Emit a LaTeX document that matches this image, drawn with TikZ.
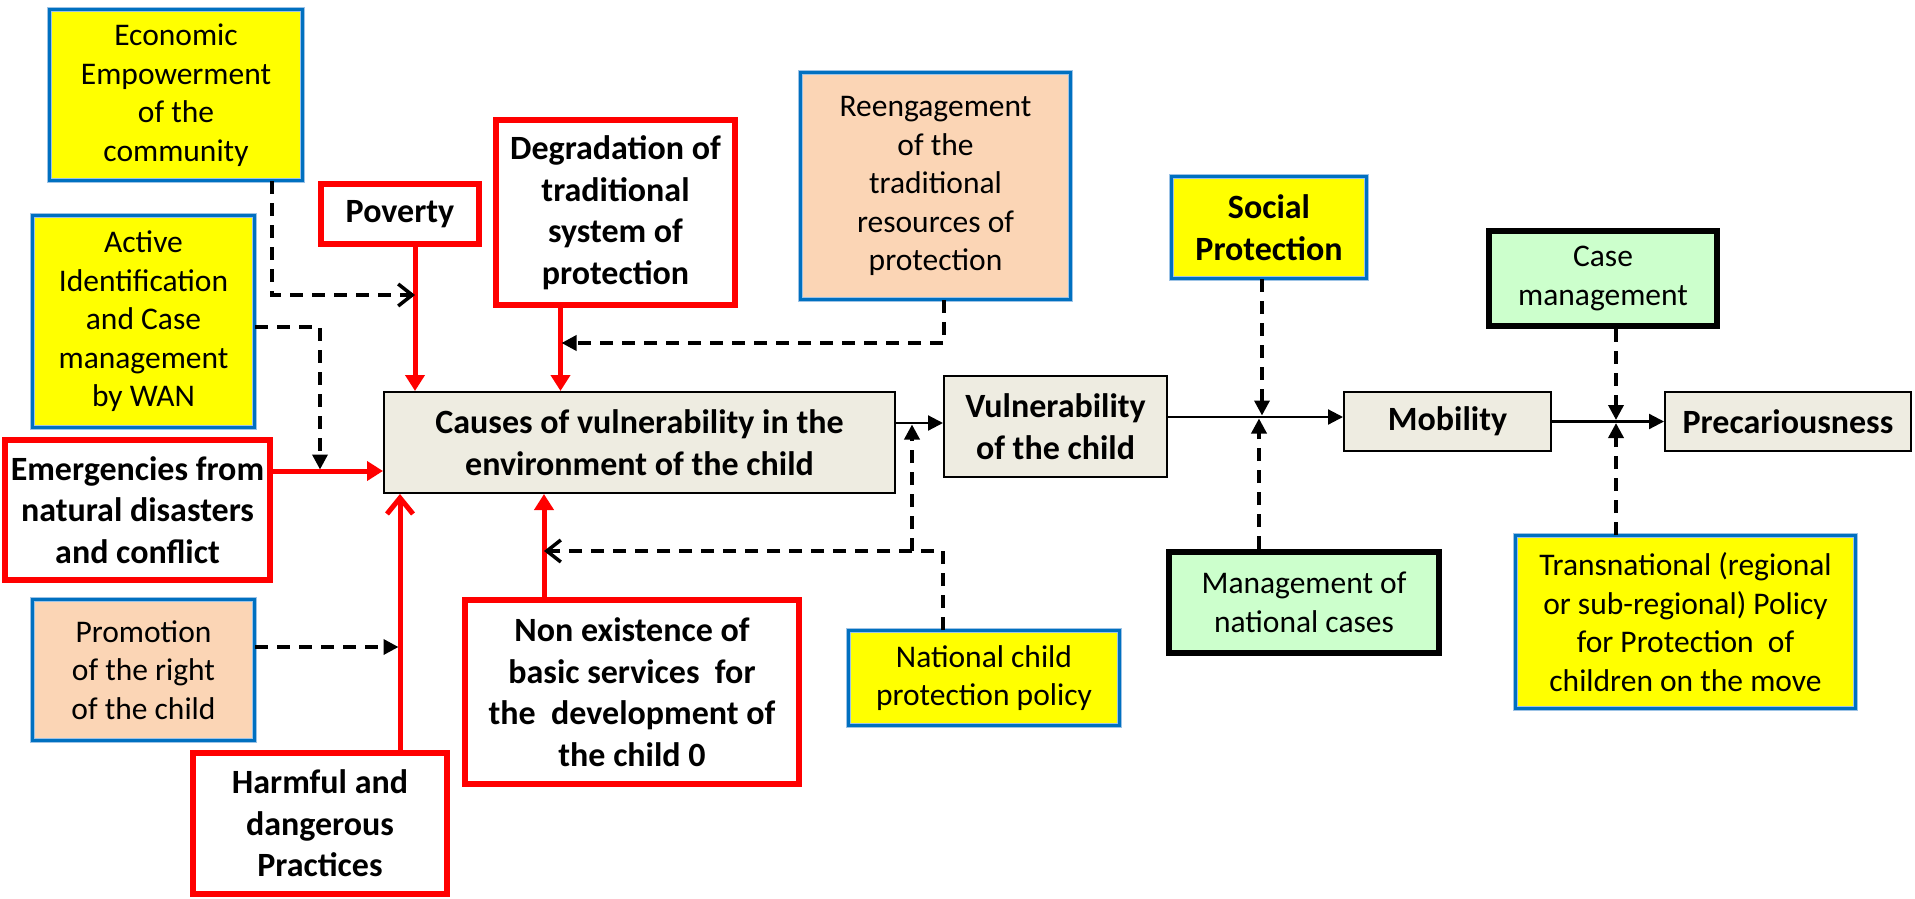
\documentclass[tikz,border=0pt]{standalone}
\usepackage{fontspec}
\setmainfont{Carlito}
\usetikzlibrary{arrows.meta}

\definecolor{boxyellow}{HTML}{FFFF00}
\definecolor{boxpeach}{HTML}{FBD5B5}
\definecolor{boxgreen}{HTML}{CCFFCC}
\definecolor{boxtan}{HTML}{EEECE1}
\definecolor{bluedark}{HTML}{0070C0}
\definecolor{bluelight}{HTML}{9DC3E6}

\newcommand{\regfont}{\fontsize{31.5}{38.5}\selectfont}
\newcommand{\boldfont}{\fontsize{34}{41.5}\selectfont\bfseries}

\tikzset{
    base/.style={rectangle, align=center, inner sep=0pt, font=\regfont},
    bluebox/.style={base, draw=bluelight, double=bluedark, double distance=3pt, line width=1pt},
    yellowbox/.style={bluebox, fill=boxyellow},
    peachbox/.style={bluebox, fill=boxpeach},
    redbox/.style={base, draw=red, line width=5.5pt, fill=white, font=\boldfont},
    greenbox/.style={base, draw=black, line width=6pt, fill=boxgreen},
    tanbox/.style={base, draw=black, line width=2pt, fill=boxtan, font=\boldfont},
    redarr/.style={draw=red, line width=5pt, -{Triangle[length=16pt,width=19pt]}},
    redopen/.style={draw=red, line width=5pt, -{Straight Barb[length=16pt,width=26pt]}},
    dashline/.style={line width=3.5pt, dash pattern=on 13pt off 9pt},
    dashtip/.style={dashline, -{Triangle[length=15pt,width=15pt]}, shorten >=1.5pt},
    dashopen/.style={dashline, -{Straight Barb[length=14pt,width=22pt]}},
    flow/.style={line width=2.2pt, -{Triangle[length=15pt,width=15pt]}},
}

\begin{document}
\begin{tikzpicture}[x=1pt,y=-1pt]
    \useasboundingbox (0,0) rectangle (1915,899);
    %main chain
    \node[tanbox, minimum width=511pt, minimum height=101pt] (causes) at (639.5,442.5) {Causes of vulnerability in the\\environment of the child};
    \node[tanbox, minimum width=223pt, minimum height=101pt] (vuln) at (1055.5,426.5) {Vulnerability\\of the child};
    \node[tanbox, minimum width=207pt, minimum height=59pt] (mobility) at (1447.5,421.5) {Mobility};
    \node[tanbox, minimum width=246pt, minimum height=59pt] (precar) at (1788,421.5) {Precariousness};
    %causes
    \node[redbox, minimum width=158pt, minimum height=60pt] (poverty) at (400,214) {Poverty};
    \node[redbox, minimum width=239pt, minimum height=185pt] (degrad) at (615.5,212.5) {Degradation of\\traditional\\system of\\protection};
    \node[redbox, minimum width=265pt, minimum height=140pt] (emerg) at (137.5,510) {Emergencies from\\natural disasters\\and conflict};
    \node[redbox, minimum width=254pt, minimum height=141pt] (harmful) at (320,823.5) {Harmful and\\dangerous\\Practices};
    \node[redbox, minimum width=334pt, minimum height=184pt] (nonex) at (632,692) {Non existence of\\basic services\ \ for\\the\ \ development of\\the child 0};
    %responses
    \node[yellowbox, minimum width=253pt, minimum height=171pt] (econ) at (176,95) {Economic\\Empowerment\\of the\\community};
    \node[yellowbox, minimum width=222pt, minimum height=212pt] (active) at (143.5,321.5) {Active\\Identification\\and Case\\management\\by WAN};
    \node[peachbox, minimum width=222pt, minimum height=141pt] (promo) at (143.5,670) {Promotion\\of the right\\of the child};
    \node[peachbox, minimum width=270pt, minimum height=227pt] (reeng) at (935.5,186) {Reengagement\\of the\\traditional\\resources of\\protection};
    \node[yellowbox, minimum width=271pt, minimum height=95pt] (natpol) at (984,678) {National child\\protection policy};
    \node[yellowbox, minimum width=195pt, minimum height=102pt, font=\boldfont] (social) at (1269,227.5) {Social\\Protection};
    \node[greenbox, minimum width=270pt, minimum height=101pt] (mgmt) at (1304,602.5) {Management of\\national cases};
    \node[greenbox, minimum width=228pt, minimum height=95pt] (casem) at (1603,278.5) {Case\\management};
    \node[yellowbox, minimum width=340pt, minimum height=173pt] (transn) at (1685.5,622) {Transnational (regional\\or sub-regional) Policy\\for Protection\ \ of\\children on the move};
    %red arrows into causes
    \coordinate (pv) at ([xshift=15pt]poverty.south);
    \coordinate (dg) at ([xshift=-55pt]degrad.south);
    \coordinate (em) at ([yshift=39pt]emerg.east);
    \coordinate (hm) at ([xshift=80pt]harmful.north);
    \coordinate (ne) at ([xshift=-88pt]nonex.north);
    \draw[redarr] (pv) -- (pv |- causes.north);
    \draw[redarr] (dg) -- (dg |- causes.north);
    \draw[redarr] (em) -- (em -| causes.west);
    \draw[redopen] (hm) -- (hm |- causes.south);
    \draw[redarr] (ne) -- (ne |- causes.south);
    %chain arrows
    \coordinate (cv) at ([yshift=19.5pt]causes.east);
    \coordinate (vm) at ([yshift=9.5pt]vuln.east);
    \draw[flow] (cv) -- (cv -| vuln.west);
    \draw[flow] (vm) -- (vm -| mobility.west);
    \draw[flow] (mobility) -- (precar);
    %dashed responses
    \coordinate (ec) at ([xshift=96pt]econ.south);
    \coordinate (ej) at (415,295);
    \draw[dashopen] (ec) |- (ej);
    \coordinate (ac) at ([yshift=-5.5pt]active.east);
    \coordinate (aj) at (320,471);
    \draw[dashtip] (ac) -| (aj);
    \coordinate (pr) at ([yshift=23pt]promo.east);
    \draw[dashtip] (pr) -- (pr -| hm);
    \coordinate (rg) at ([xshift=8.5pt]reeng.south);
    \coordinate (rj) at (560,343);
    \draw[dashtip] (rg) |- (rj);
    \coordinate (np) at ([xshift=-41pt]natpol.north);
    \coordinate (nj) at (943,551);
    \coordinate (nk) at (912,551);
    \draw[dashopen] (np) |- (ne |- nj);
    \draw[dashtip] (nk) -- (nk |- cv);
    \coordinate (sp) at ([xshift=-7pt]social.south);
    \coordinate (mg) at ([xshift=-45pt]mgmt.north);
    \draw[dashtip] (sp) -- (sp |- vm);
    \draw[dashtip] (mg) -- (mg |- vm);
    \coordinate (cm) at ([xshift=13pt]casem.south);
    \coordinate (tn) at ([xshift=-69.5pt]transn.north);
    \draw[dashtip] (cm) -- (cm |- mobility);
    \draw[dashtip] (tn) -- (tn |- mobility);
\end{tikzpicture}
\end{document}
